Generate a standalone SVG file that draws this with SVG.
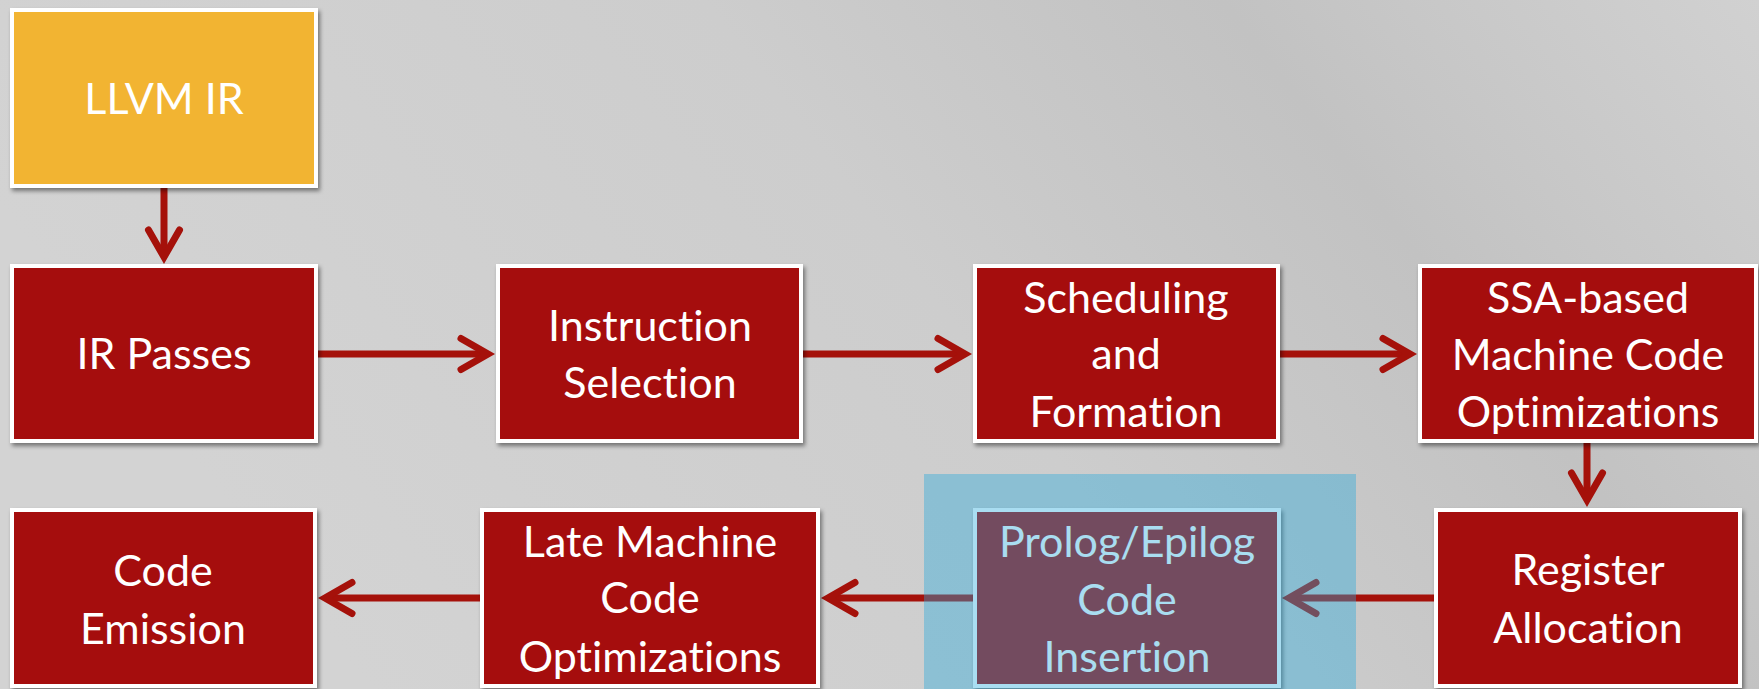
<svg xmlns="http://www.w3.org/2000/svg" width="1759" height="689" viewBox="0 0 1759 689">
<defs>
<linearGradient id="bg" x1="0" y1="0.3" x2="1" y2="0" >
<stop offset="0" stop-color="#d3d3d3"/>
<stop offset="0.45" stop-color="#cdcdcd"/>
<stop offset="0.72" stop-color="#c2c2c2"/>
<stop offset="1" stop-color="#d1d1d1"/>
</linearGradient>
<filter id="sh" x="-10%" y="-10%" width="125%" height="125%">
<feDropShadow dx="2" dy="3" stdDeviation="2" flood-color="#000" flood-opacity="0.45"/>
</filter>
<marker id="ah" markerUnits="userSpaceOnUse" markerWidth="50" markerHeight="50" viewBox="-40 -25 50 50" refX="0" refY="0" orient="auto" overflow="visible">
<path d="M-27,-15.5 L0,0 L-27,15.5" fill="none" stroke="#a5110a" stroke-width="7" stroke-linecap="round" stroke-linejoin="miter"/>
</marker>
</defs>
<style>
.box{stroke:#ffffff;stroke-width:4;filter:url(#sh)}
.red{fill:#a5110a}
.yel{fill:#f2b432}
.t{font-family:Lato,"Liberation Sans",sans-serif;font-size:43px;fill:#ffffff;text-anchor:middle;font-variant-ligatures:none;font-feature-settings:"liga" 0}
.c{fill:none;stroke:#a5110a;stroke-width:7;marker-end:url(#ah)}
</style>
<rect x="0" y="0" width="1759" height="689" fill="url(#bg)"/>
<g id="connectors">
<path class="c" d="M164,188 V257"/>
<path class="c" d="M318,354 H488"/>
<path class="c" d="M803,354 H965"/>
<path class="c" d="M1280,354 H1410"/>
<path class="c" d="M1587,443 V500"/>
<path class="c" d="M1434,598 H1289"/>
<path class="c" d="M973,598 H828"/>
<path class="c" d="M480,598 H325"/>
</g>
<g id="llvm-ir"><rect class="box yel" x="12" y="10" width="304" height="176"/><text class="t" x="164" y="114">LLVM IR</text></g>
<g id="ir-passes"><rect class="box red" x="12" y="266" width="304" height="175"/><text class="t" x="164" y="369">IR Passes</text></g>
<g id="instruction-selection"><rect class="box red" x="498" y="266" width="303" height="175"/><text class="t" x="650" y="341">Instruction</text><text class="t" x="650" y="398">Selection</text></g>
<g id="scheduling"><rect class="box red" x="975" y="266" width="303" height="175"/><text class="t" x="1126" y="313">Scheduling</text><text class="t" x="1126" y="369">and</text><text class="t" x="1126" y="427">Formation</text></g>
<g id="ssa-opt"><rect class="box red" x="1420" y="266" width="336" height="175"/><text class="t" x="1588" y="313">SSA-based</text><text class="t" x="1588" y="370">Machine Code</text><text class="t" x="1588" y="427">Optimizations</text></g>
<g id="register-allocation"><rect class="box red" x="1436" y="510" width="304" height="176"/><text class="t" x="1588" y="585">Register</text><text class="t" x="1588" y="643">Allocation</text></g>
<g id="prolog-epilog"><rect class="box red" x="975" y="510" width="304" height="176"/><text class="t" x="1127" y="557">Prolog/Epilog</text><text class="t" x="1127" y="615">Code</text><text class="t" x="1127" y="672">Insertion</text></g>
<g id="late-opt"><rect class="box red" x="482" y="510" width="336" height="176"/><text class="t" x="650" y="557">Late Machine</text><text class="t" x="650" y="613">Code</text><text class="t" x="650" y="672">Optimizations</text></g>
<g id="code-emission"><rect class="box red" x="12" y="510" width="303" height="176"/><text class="t" x="163" y="586">Code</text><text class="t" x="163" y="644">Emission</text></g>
<g id="highlight"><rect x="924" y="474" width="432" height="215" fill="#28aadc" fill-opacity="0.4"/></g>
</svg>
